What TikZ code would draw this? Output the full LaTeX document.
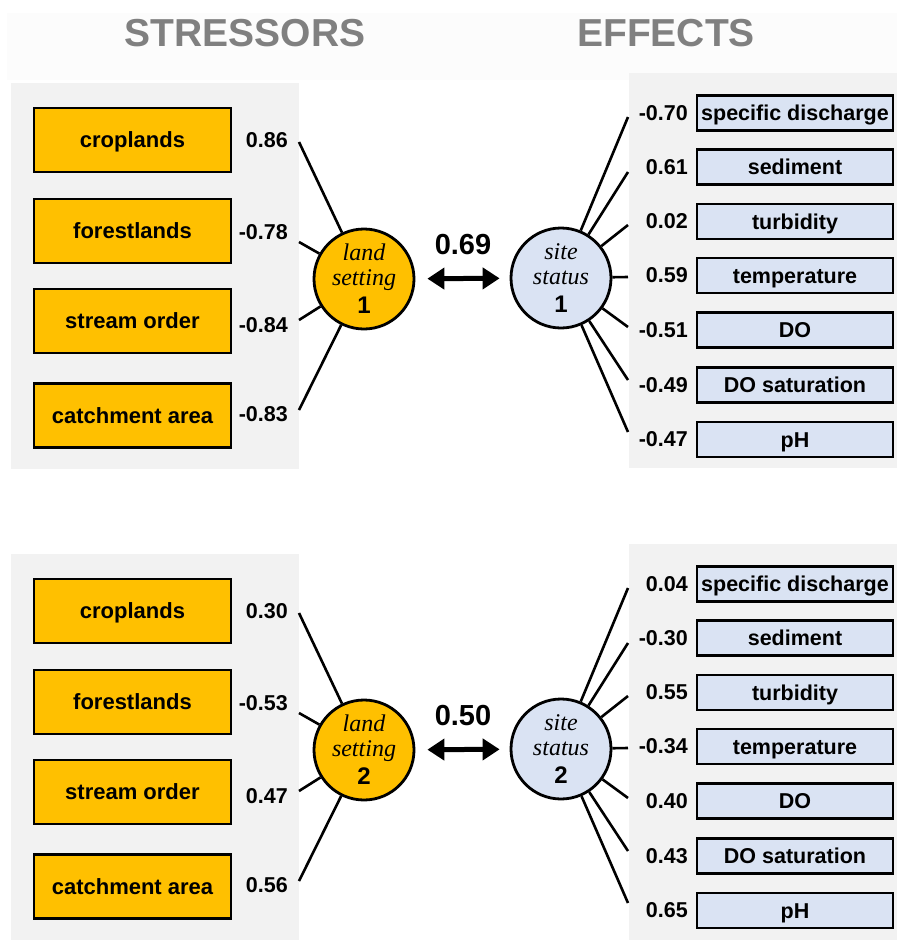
\documentclass[tikz,border=0pt]{standalone}
\usepackage{fontspec}
\setmainfont{Liberation Sans}
\newfontfamily\timesit{Liberation Serif}
\usetikzlibrary{arrows.meta}
\definecolor{stressor}{HTML}{FFC000}
\definecolor{effect}{HTML}{DAE3F3}
\definecolor{panel}{HTML}{F2F2F2}
\definecolor{titlegray}{HTML}{808080}
\tikzset{
  sbox/.style={draw, line width=2.8pt, fill=stressor, minimum width=197pt, minimum height=64pt,
    inner sep=0, text height=16pt, text depth=1pt, font=\bfseries\fontsize{22}{22}\selectfont},
  ebox/.style={draw, line width=2.8pt, fill=effect, minimum width=196pt, minimum height=35pt,
    inner sep=0, text height=16pt, text depth=1pt, font=\bfseries\fontsize{21.5}{21.5}\selectfont},
  val/.style={inner sep=0, anchor=east, font=\bfseries\fontsize{21.5}{21.5}\selectfont},
  latent/.style={draw, line width=2.8pt, circle, minimum size=100pt, inner sep=0, align=center,
    font=\bfseries\fontsize{24}{25}\selectfont},
  load/.style={line width=2.6pt},
  corr/.style={line width=5pt, {Triangle[width=21pt,length=17pt]}-{Triangle[width=21pt,length=17pt]},
    shorten <=12pt, shorten >=10pt},
  rlabel/.style={inner sep=0, font=\bfseries\fontsize{29}{29}\selectfont},
  heading/.style={inner sep=0, text=titlegray, font=\bfseries\fontsize{39}{39}\selectfont}
}
\begin{document}
\begin{tikzpicture}[x=1pt, y=-1pt]
  \useasboundingbox (0,0) rectangle (897,940);
  \fill[black!1] (7,13) rectangle (897,80);
  \node[heading] (stress) at (245,33) {STRESSORS};
  \node[heading] (effects) at (666,33) {EFFECTS};

  % first pair
  \fill[panel] (11,83) rectangle (299,469);
  \fill[panel] (629,73) rectangle (897,468);
  \node[sbox] (crop1) at (132.5,140) {croplands};
  \node[sbox] (forest1) at (132.5,231) {forestlands};
  \node[sbox] (order1) at (132.5,321) {stream order};
  \node[sbox] (area1) at (132.5,415.5) {catchment area};
  \node[val] (vcrop1) at (288,140) {0.86};
  \node[val] (vforest1) at (288,232) {-0.78};
  \node[val] (vorder1) at (288,325) {-0.84};
  \node[val] (varea1) at (288,414) {-0.83};
  \coordinate (acrop1) at (299,142);
  \coordinate (aforest1) at (299,242);
  \coordinate (aorder1) at (299,320);
  \coordinate (aarea1) at (299,410);
  \node[latent, fill=stressor] (L1) at (364,279) {{\timesit\mdseries\itshape land}\\{\timesit\mdseries\itshape setting}\\[3pt]1};
  \node[latent, fill=effect] (S1) at (561,278) {{\timesit\mdseries\itshape site}\\{\timesit\mdseries\itshape status}\\[3pt]1};
  \draw[corr] (L1) -- (S1);
  \node[rlabel] (r1) at (463,245) {0.69};
  \node[ebox] (disch1) at (795,113) {specific discharge};
  \node[ebox] (sed1) at (795,167) {sediment};
  \node[ebox] (turb1) at (795,221.5) {turbidity};
  \node[ebox] (temp1) at (795,275.5) {temperature};
  \node[ebox] (do1) at (795,330) {DO};
  \node[ebox] (dosat1) at (795,385) {DO saturation};
  \node[ebox] (ph1) at (795,439.5) {pH};
  \node[val] (vdisch1) at (688,113) {-0.70};
  \node[val] (vsed1) at (688,167) {0.61};
  \node[val] (vturb1) at (688,221.5) {0.02};
  \node[val] (vtemp1) at (688,275.5) {0.59};
  \node[val] (vdo1) at (688,330) {-0.51};
  \node[val] (vdosat1) at (688,385) {-0.49};
  \node[val] (vph1) at (688,439.5) {-0.47};
  \coordinate (edisch1) at (628,117);
  \coordinate (esed1) at (628,172);
  \coordinate (eturb1) at (628,225);
  \coordinate (etemp1) at (628,277);
  \coordinate (edo1) at (628,327);
  \coordinate (edosat1) at (628,380);
  \coordinate (eph1) at (628,432);
  \draw[load] (L1) -- (acrop1);
  \draw[load] (L1) -- (aforest1);
  \draw[load] (L1) -- (aorder1);
  \draw[load] (L1) -- (aarea1);
  \draw[load] (S1) -- (edisch1);
  \draw[load] (S1) -- (esed1);
  \draw[load] (S1) -- (eturb1);
  \draw[load] (S1) -- (etemp1);
  \draw[load] (S1) -- (edo1);
  \draw[load] (S1) -- (edosat1);
  \draw[load] (S1) -- (eph1);

  % second pair
  \begin{scope}[yshift=-471pt]
  \fill[panel] (11,83) rectangle (299,469);
  \fill[panel] (629,73) rectangle (897,469);
  \node[sbox] (crop2) at (132.5,140) {croplands};
  \node[sbox] (forest2) at (132.5,231) {forestlands};
  \node[sbox] (order2) at (132.5,321) {stream order};
  \node[sbox] (area2) at (132.5,415.5) {catchment area};
  \node[val] (vcrop2) at (288,140) {0.30};
  \node[val] (vforest2) at (288,232) {-0.53};
  \node[val] (vorder2) at (288,325) {0.47};
  \node[val] (varea2) at (288,414) {0.56};
  \coordinate (acrop2) at (299,142);
  \coordinate (aforest2) at (299,242);
  \coordinate (aorder2) at (299,320);
  \coordinate (aarea2) at (299,410);
  \node[latent, fill=stressor] (L2) at (364,279) {{\timesit\mdseries\itshape land}\\{\timesit\mdseries\itshape setting}\\[3pt]2};
  \node[latent, fill=effect] (S2) at (561,278) {{\timesit\mdseries\itshape site}\\{\timesit\mdseries\itshape status}\\[3pt]2};
  \draw[corr] (L2) -- (S2);
  \node[rlabel] (r2) at (463,245) {0.50};
  \node[ebox] (disch2) at (795,113) {specific discharge};
  \node[ebox] (sed2) at (795,167) {sediment};
  \node[ebox] (turb2) at (795,221.5) {turbidity};
  \node[ebox] (temp2) at (795,275.5) {temperature};
  \node[ebox] (do2) at (795,330) {DO};
  \node[ebox] (dosat2) at (795,385) {DO saturation};
  \node[ebox] (ph2) at (795,439.5) {pH};
  \node[val] (vdisch2) at (688,113) {0.04};
  \node[val] (vsed2) at (688,167) {-0.30};
  \node[val] (vturb2) at (688,221.5) {0.55};
  \node[val] (vtemp2) at (688,275.5) {-0.34};
  \node[val] (vdo2) at (688,330) {0.40};
  \node[val] (vdosat2) at (688,385) {0.43};
  \node[val] (vph2) at (688,439.5) {0.65};
  \coordinate (edisch2) at (628,117);
  \coordinate (esed2) at (628,172);
  \coordinate (eturb2) at (628,225);
  \coordinate (etemp2) at (628,277);
  \coordinate (edo2) at (628,327);
  \coordinate (edosat2) at (628,380);
  \coordinate (eph2) at (628,432);
  \draw[load] (L2) -- (acrop2);
  \draw[load] (L2) -- (aforest2);
  \draw[load] (L2) -- (aorder2);
  \draw[load] (L2) -- (aarea2);
  \draw[load] (S2) -- (edisch2);
  \draw[load] (S2) -- (esed2);
  \draw[load] (S2) -- (eturb2);
  \draw[load] (S2) -- (etemp2);
  \draw[load] (S2) -- (edo2);
  \draw[load] (S2) -- (edosat2);
  \draw[load] (S2) -- (eph2);
  \end{scope}
\end{tikzpicture}
\end{document}
